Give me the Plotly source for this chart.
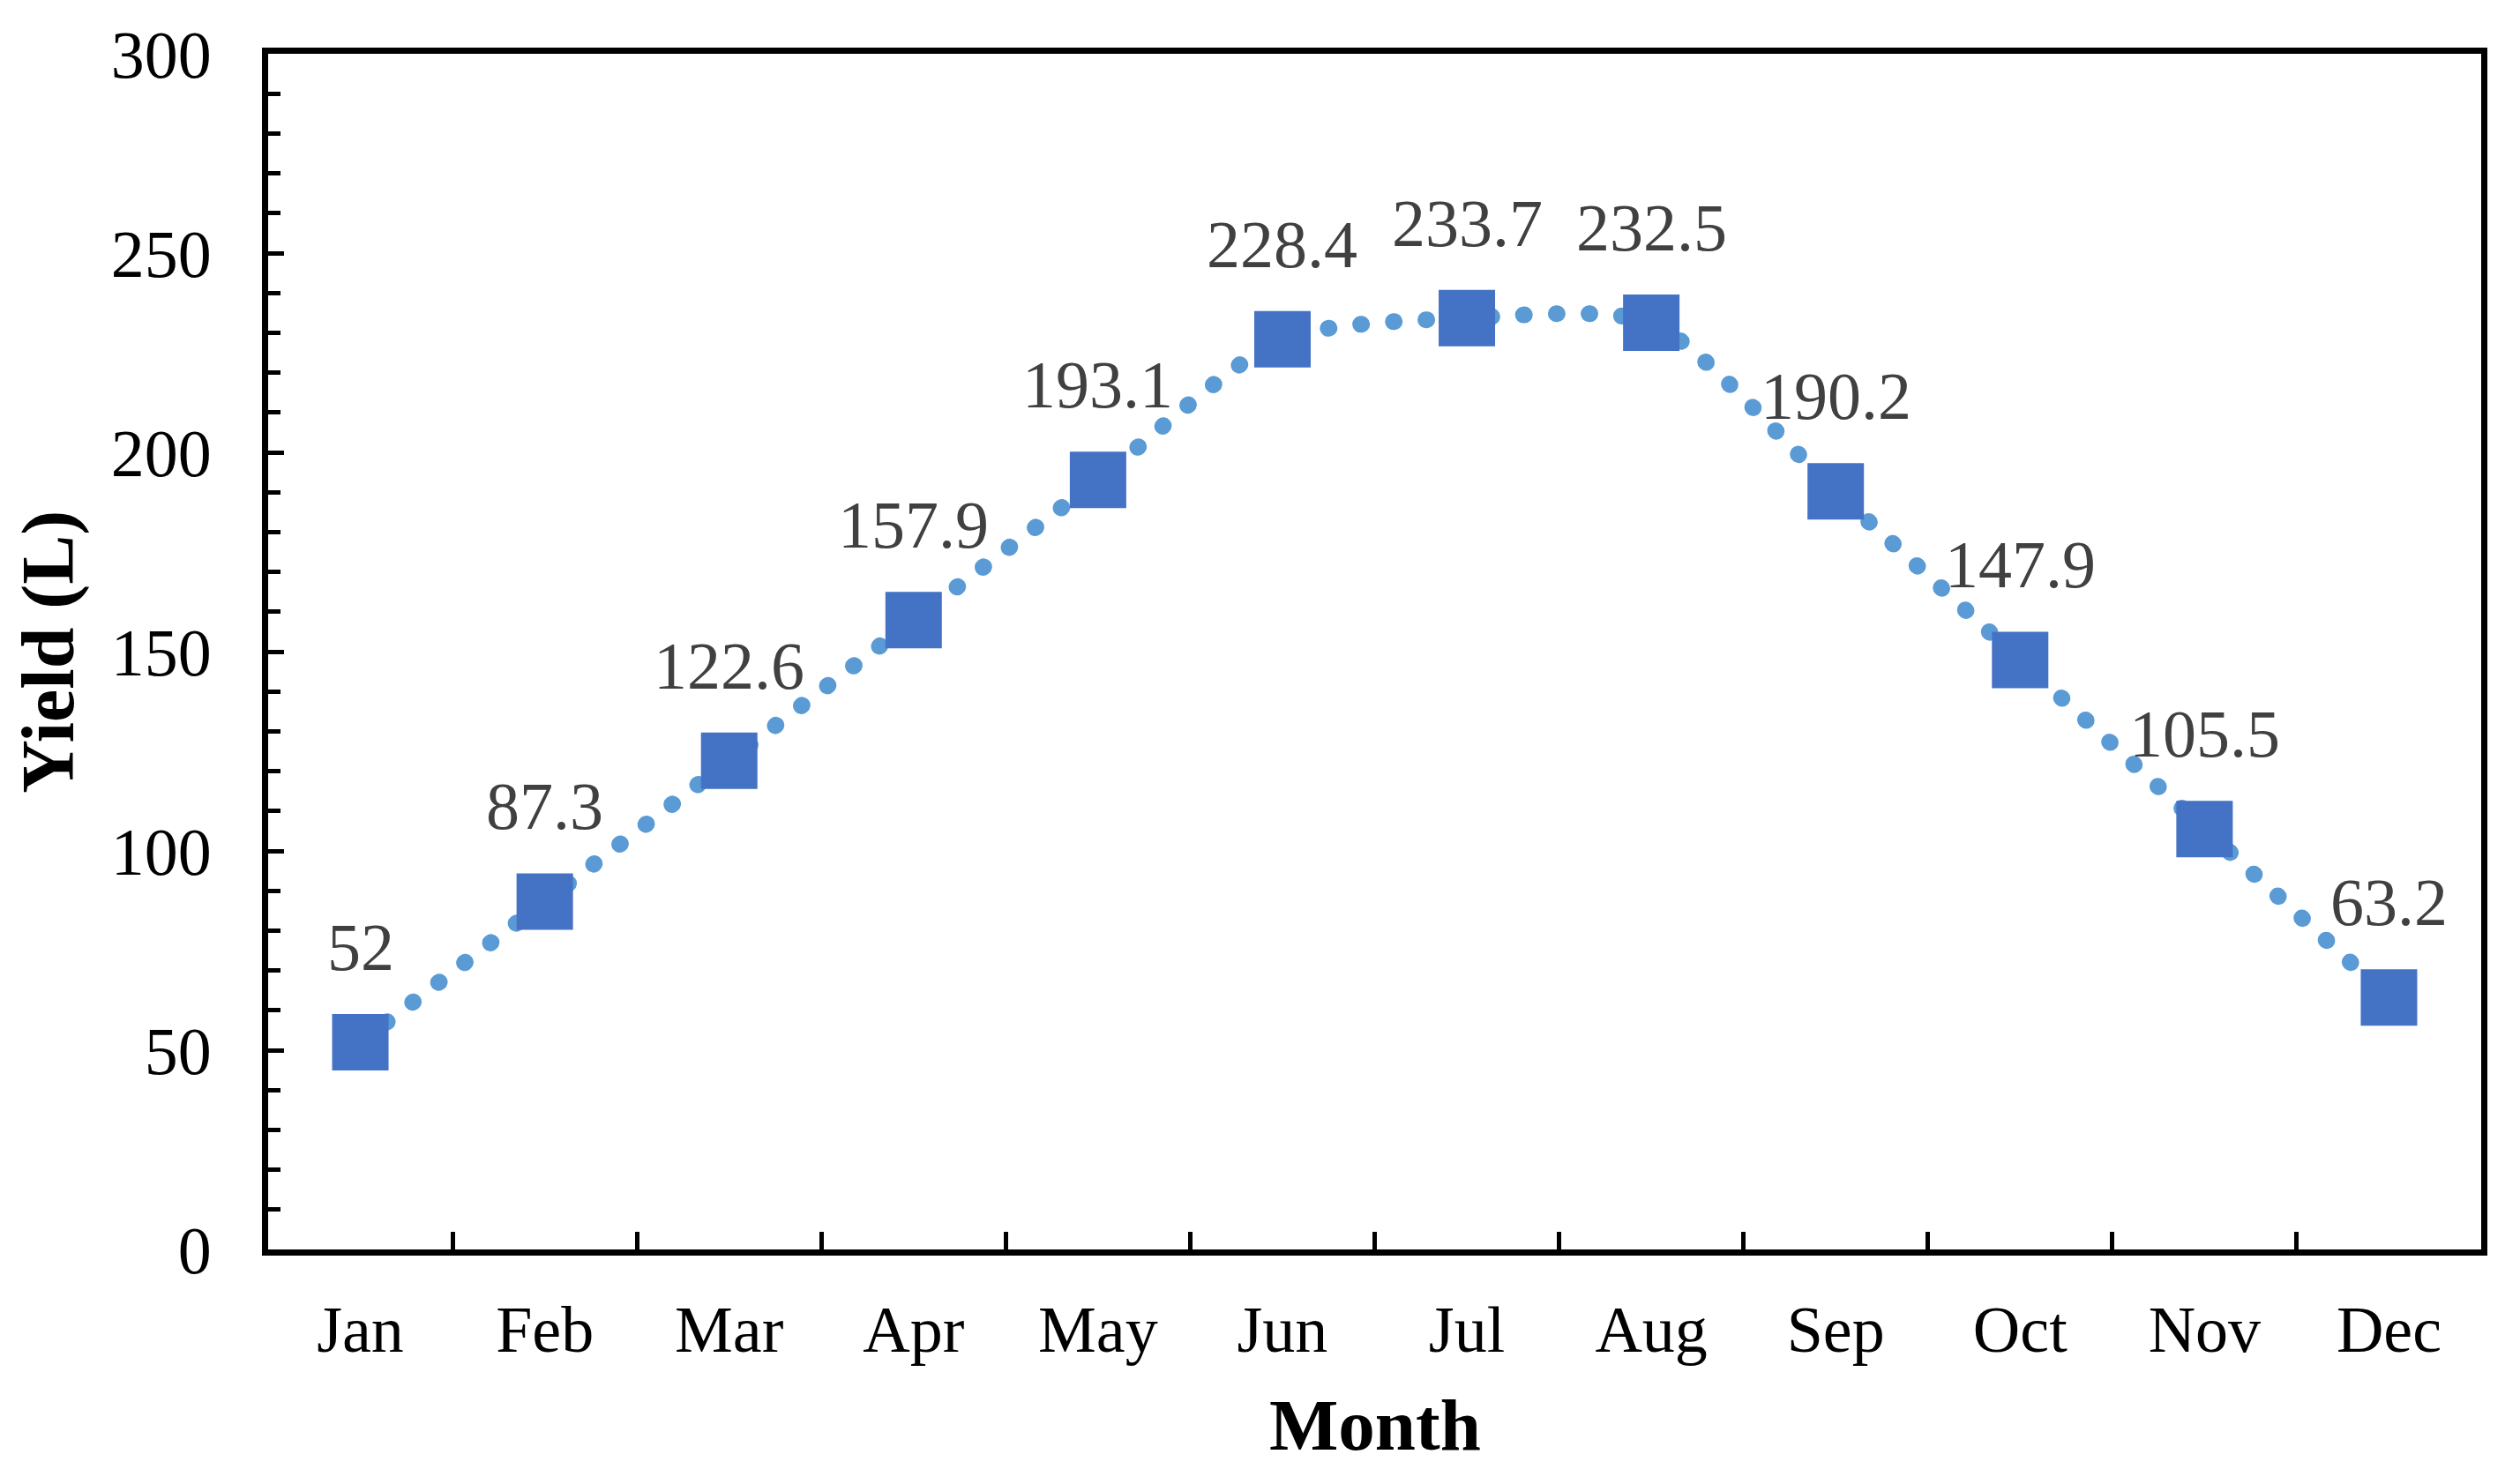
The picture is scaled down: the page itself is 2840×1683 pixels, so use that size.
import plotly.graph_objects as go

months = ["Jan", "Feb", "Mar", "Apr", "May", "Jun", "Jul", "Aug", "Sep", "Oct", "Nov", "Dec"]
yield_l = [52, 87.3, 122.6, 157.9, 193.1, 228.4, 233.7, 232.5, 190.2, 147.9, 105.5, 63.2]
y_ticks = [0, 50, 100, 150, 200, 250, 300]

FONT = "Liberation Serif, Times New Roman, serif"

fig = go.Figure()
fig.add_trace(go.Scatter(
    x=months, y=yield_l, mode="lines+markers",
    line=dict(color="#5B9BD5", width=19, dash="1px,36px", shape="spline", smoothing=0.7),
    marker=dict(symbol="square", size=60, color="#4472C4",
                line=dict(color="#4472C4", width=4)),
    showlegend=False, hoverinfo="skip",
))

annotations = []
for m, v in zip(months, yield_l):
    annotations.append(dict(
        x=m, y=v, xref="x", yref="y", text=f"{v:g}", showarrow=False,
        yanchor="bottom", xanchor="center", yshift=64,
        font=dict(family=FONT, size=76, color="#404040"),
    ))
annotations.append(dict(
    x=0.5, y=-0.147, xref="paper", yref="paper", text="<b>Month</b>", showarrow=False,
    xanchor="center", yanchor="middle", font=dict(family=FONT, size=83, color="black"),
))
annotations.append(dict(
    x=-0.0993, y=0.5, xref="paper", yref="paper", text="<b>Yield (L)</b>", showarrow=False,
    xanchor="center", yanchor="middle", textangle=-90,
    font=dict(family=FONT, size=84, color="black"),
))

fig.update_layout(
    width=2840, height=1683,
    margin=dict(l=304, r=27, t=61, b=266, autoexpand=False),
    paper_bgcolor="white", plot_bgcolor="white",
    annotations=annotations,
    font=dict(family=FONT, color="black"),
)
fig.update_xaxes(
    type="category", range=[-0.5, len(months) - 0.5], automargin=False,
    showline=True, linecolor="black", linewidth=7, mirror=True,
    ticks="inside", tickson="boundaries", ticklen=20, tickwidth=5, tickcolor="black",
    tickfont=dict(family=FONT, size=74, color="black"), ticklabelstandoff=20,
    showgrid=False, zeroline=False,
)
fig.update_yaxes(
    range=[0, 300], tickvals=y_ticks, automargin=False,
    showline=True, linecolor="black", linewidth=7, mirror=True,
    ticks="inside", ticklen=18, tickwidth=5, tickcolor="black",
    minor=dict(ticks="inside", dtick=10, ticklen=14, tickwidth=5, tickcolor="black", showgrid=False),
    tickfont=dict(family=FONT, size=76, color="black"), ticklabelstandoff=42,
    showgrid=False, zeroline=False,
)

post = """
document.body.style.margin = '0';
document.body.style.padding = '0';
var st = document.createElement('style');
st.innerHTML = '.scatterlayer .js-line { stroke-linecap: round !important; }';
document.head.appendChild(st);
"""
fig.write_html("out.html", config={"displayModeBar": False}, post_script=post)
